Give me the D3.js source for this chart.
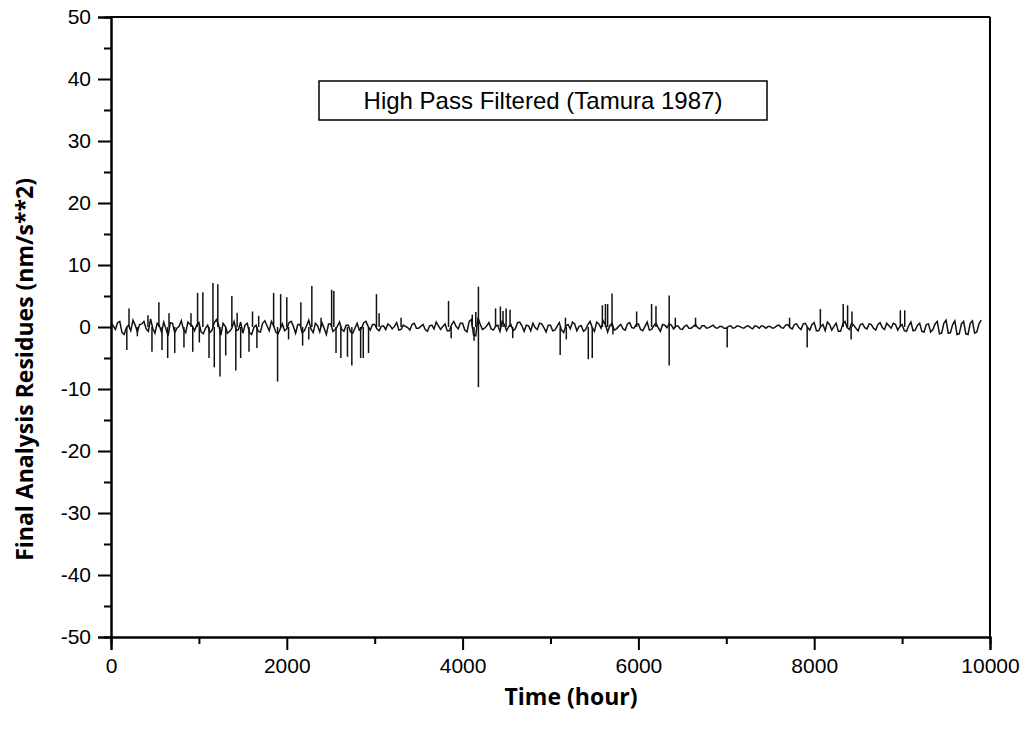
<!DOCTYPE html>
<html>
<head>
<meta charset="utf-8">
<script src="https://cdn.jsdelivr.net/npm/d3@7"></script>
<style>
  body { margin: 0; background: #fff; }
  text { font-family: "Liberation Sans", Arial, sans-serif; }
</style>
</head>
<body>
<div id="chart"></div>
<script>
// background residues, one value every 50 hours from 0 to 9900
const baseStep = 50;
const baseValues = [
  0.6, -0.4, 0.9, -1.2, 0.3, 1.1, -0.8, 0.5, -0.3, 1.3, -1.0, 0.2, 0.8, -1.4, 0.6, -0.2, 1.0, -0.9, 0.4, -0.6,
  0.7, -1.1, 0.3, -0.5, 1.2, -1.3, 0.1, -0.7, 0.9, -0.4, -1.0, 0.6, -1.2, 0.3, -0.8, 1.0, -0.6, 0.2, -1.1, 0.5,
  -0.3, 0.9, -1.0, 0.4, -0.6, 1.1, -0.9, 0.2, 0.7, -1.2, 0.5, -0.4, 0.8, -0.7, 0.3, -1.0, 0.6, -0.2, 0.9, -0.5,
  0.4, -0.6, 0.2, 0.5, -0.3, 0.7, -0.4, 0.1, -0.5, 0.6, -0.2, 0.4, -0.7, 0.3, 0.8, -0.4, 0.5, -0.6, 0.9, -0.3,
  0.6, -0.8, 1.2, -1.4, 0.5, -0.2, 0.7, -0.5, 0.3, 0.9, -0.6, 0.4, -0.3, 0.8, -0.7, 0.2, 0.6, -0.4, 0.5, -0.8,
  0.3, -0.5, 0.7, -0.9, 0.4, 0.8, -0.6, 0.2, -0.4, 0.9, -0.7, 0.5, 1.0, -0.8, 0.6, -0.3, 0.4, -0.5, 0.7, -0.2,
  0.5, -0.6, 0.8, -0.4, 0.6, -0.7, 0.3, 0.5, -0.3, 0.2, -0.4, 0.3, -0.2, 0.4, -0.3, 0.2, -0.1, 0.3, -0.2, 0.1,
  -0.2, 0.2, -0.1, 0.1, -0.2, 0.2, -0.3, 0.1, 0.2, -0.2, 0.1, -0.1, 0.3, -0.2, 0.4, -0.3, 0.5, -0.4, 0.6, -0.5,
  0.7, -0.6, 0.4, 0.8, -0.5, 0.6, -0.7, 0.9, -0.4, 0.3, -0.6, 0.5, -0.3, 0.4, -0.5, 0.7, -0.4, 0.2, 0.6, -0.5,
  0.4, -0.7, 0.8, -0.5, 0.6, -0.8, 0.5, -0.4, 0.9, -1.0, 1.1, -0.9, 1.0, -1.1, 0.9, -1.2, 1.0, -0.8, 1.1
];

// in-between residues at hours 25, 75, ... 9875
const midStart = 25;
const midValues = [
  0.2, 0.7, -0.9, -0.1, -0.6, 0.3, 0.4, 0.9, -0.7, -0.2, 0.6, -0.8, -0.3, 0.7, -0.9, 0.1, -0.4, 0.8, 0.2, 0.3,
  -0.8, -0.2, -0.9, 0.7, 0.3, 0.6, -1.0, -0.2, -0.6, 0.8, 0.3, -0.9, -0.1, -0.7, 0.6, 0.2, 0.9, -0.8, -0.3, -0.6,
  0.7, 0.1, 0.4, -0.9, 0.2, -0.3, 0.6, -0.8, -0.2, 0.5, -0.7, 0.1, -0.4, 0.3, -0.8, -0.2, -0.5, 0.7, 0.1, 0.4,
  -0.3, 0.1, -0.4, 0.2, 0.1, -0.5, 0.3, -0.1, 0.4, -0.2, 0.1, -0.4, 0.2, -0.3, 0.2, 0.1, -0.6, 0.4, 0.1, 0.6,
  -0.5, 0.9, -1.3, 1.5, -0.4, 0.2, -0.3, 0.1, -0.7, 0.4, 0.1, -0.6, 0.7, 0.2, 0.3, -0.6, -0.1, 0.6, -0.1, 0.3,
  -0.6, 0.1, -0.5, 0.2, -0.3, 0.5, 0.1, -0.7, 0.4, -0.1, 0.8, -0.2, 0.4, 0.2, -0.5, 0.1, -0.3, 0.5, -0.1, 0.4,
  -0.4, 0.1, -0.5, 0.2, -0.1, 0.4, -0.1, 0.3, 0.1, -0.3, 0.1, -0.2, 0.1, -0.1, 0.2, -0.2, 0.1, -0.1, 0.1, -0.2,
  0.1, -0.2, 0.2, -0.1, 0.1, -0.1, 0.2, -0.2, 0.1, 0.1, -0.2, 0.2, -0.1, 0.3, -0.1, 0.4, -0.1, 0.5, -0.1, 0.4,
  -0.6, 0.1, -0.6, 0.4, 0.1, -0.7, 0.5, -0.1, 0.6, -0.2, 0.4, -0.1, 0.5, -0.2, 0.4, -0.1, 0.6, -0.2, 0.4, 0.1,
  -0.6, 0.2, -0.6, 0.3, -0.7, 0.4, -0.8, 0.5, -1.1, 0.6, -1.0, 0.4, -1.2, 0.5, -1.1, 0.6, -1.0, 0.5
];

// single-hour spikes [hour, residue]
const spikes = [
  [180, -3.7], [205, 3.0], [300, -1.5], [420, 1.9], [466, -4.0], [545, 4.0], [580, -3.7], [645, -5.0],
  [660, 2.2], [725, -4.2], [830, -3.3], [910, 2.2], [930, -4.0], [985, 5.5], [1005, -2.5], [1045, 5.6],
  [1115, -5.0], [1160, 7.1], [1175, -6.5], [1215, 6.9], [1240, -8.0], [1305, -4.6], [1375, 5.0], [1420, -7.0],
  [1435, 2.3], [1475, -5.0], [1570, -4.0], [1610, 2.5], [1660, -3.4], [1680, 1.8], [1850, 5.5], [1895, -8.8],
  [1930, 5.3], [2000, 4.8], [2020, -2.0], [2160, 4.0], [2180, -3.0], [2250, -2.0], [2285, 6.6], [2390, 1.5],
  [2510, 6.0], [2535, 5.8], [2560, -4.2], [2615, -5.0], [2690, -4.8], [2740, -6.2], [2840, -5.0], [2870, -5.0],
  [2930, -4.2], [3020, 5.3], [3050, 2.2], [3300, 1.5], [3840, 4.2], [3870, -1.8], [4110, 2.0], [4130, -2.2],
  [4150, 2.4], [4180, 6.5], [4180, -9.7], [4375, 3.0], [4430, 3.3], [4460, 2.6], [4495, 3.0], [4540, 2.8],
  [4570, -1.8], [5110, -4.5], [5170, 1.5], [5180, -2.0], [5430, -5.2], [5475, -5.0], [5590, 3.5], [5625, 3.7],
  [5650, 3.7], [5700, 5.4], [5710, -1.2], [5980, 2.5], [6150, 3.7], [6200, 3.4], [6350, 5.1], [6350, -6.2],
  [6420, 1.5], [6650, 1.5], [7010, -3.3], [7720, 1.5], [7920, -3.3], [8070, 2.9], [8330, 3.7], [8380, 3.5],
  [8420, -2.0], [8430, 2.5], [8980, 2.7], [9030, 2.7]
];

const xTicks = [0, 2000, 4000, 6000, 8000, 10000];
const yTicks = [-50, -40, -30, -20, -10, 0, 10, 20, 30, 40, 50];
const legendLabel = "High Pass Filtered (Tamura 1987)";

// merge the background samples into one series sorted by hour
let series = baseValues.map((v, i) => ({ hour: i * baseStep, value: v }));
midValues.forEach((v, i) => series.push({ hour: midStart + i * baseStep, value: v }));
series = d3.sort(series, d => d.hour);

const W = 1031, H = 734;
const margin = { top: 17, right: 41, bottom: 97, left: 111 },
    width = W - margin.left - margin.right,
    height = H - margin.top - margin.bottom;

const svg = d3.select("#chart").append("svg")
    .attr("width", W)
    .attr("height", H);

const g = svg.append("g")
    .attr("transform", `translate(${margin.left},${margin.top})`);

const xScale = d3.scaleLinear().domain([0, 10000]).range([0, width]);
const yScale = d3.scaleLinear().domain([-50, 50]).range([height, 0]);

// data line
const line = d3.line().x(d => xScale(d.hour)).y(d => yScale(d.value));
g.append("path")
    .datum(series)
    .attr("fill", "none")
    .attr("stroke", "#111")
    .attr("stroke-width", 1.5)
    .attr("d", line);

// spikes as vertical strokes
g.append("g").selectAll("line")
    .data(spikes)
    .join("line")
    .attr("x1", d => xScale(d[0]))
    .attr("x2", d => xScale(d[0]))
    .attr("y1", yScale(0))
    .attr("y2", d => yScale(d[1]))
    .attr("stroke", "#111")
    .attr("stroke-width", 1.5);

// frame (top and right)
g.append("line").attr("x1", 0).attr("x2", width).attr("y1", 0).attr("y2", 0)
    .attr("stroke", "#000").attr("stroke-width", 2);
g.append("line").attr("x1", width).attr("x2", width).attr("y1", 0).attr("y2", height)
    .attr("stroke", "#000").attr("stroke-width", 2);

// minor ticks
const xMinor = d3.axisBottom(xScale).tickValues(d3.range(1000, 10000, 2000)).tickSize(7).tickFormat("");
const yMinor = d3.axisLeft(yScale).tickValues(d3.range(-45, 50, 10)).tickSize(7).tickFormat("");
g.append("g").attr("transform", `translate(0,${height})`).call(xMinor);
g.append("g").call(yMinor);

// major axes
const xAxis = d3.axisBottom(xScale).tickValues(xTicks).tickSize(13).tickPadding(8).tickFormat(d3.format("d"));
const yAxis = d3.axisLeft(yScale).tickValues(yTicks).tickSize(13).tickPadding(7).tickFormat(d => d < 0 ? "-" + Math.abs(d) : d);

g.append("g").attr("class", "x-axis").attr("transform", `translate(0,${height})`).call(xAxis);
g.append("g").attr("class", "y-axis").call(yAxis);

g.selectAll(".domain").attr("stroke", "#000").attr("stroke-width", 2);
g.selectAll(".tick line").attr("stroke", "#000").attr("stroke-width", 2);
g.selectAll(".tick text").attr("font-size", 21).attr("fill", "#000")
    .style("font-family", "'Liberation Sans', Arial, sans-serif");

// legend box
const lg = g.append("g").attr("transform", `translate(${319 - margin.left},${81 - margin.top})`);
lg.append("rect").attr("width", 448).attr("height", 39)
    .attr("fill", "#fff").attr("stroke", "#000").attr("stroke-width", 1.5);
lg.append("text").attr("x", 224).attr("y", 28).attr("text-anchor", "middle")
    .attr("font-size", 24).text(legendLabel);

// axis titles
svg.append("text")
    .attr("x", 571).attr("y", 705)
    .attr("text-anchor", "middle")
    .attr("font-size", 23).attr("font-weight", "bold")
    .style("font-family", "'Open Sans', sans-serif")
    .text("Time (hour)");

svg.append("text")
    .attr("transform", "translate(33,178) rotate(-90)")
    .attr("text-anchor", "end")
    .attr("font-size", 23).attr("font-weight", "bold")
    .style("font-family", "'Open Sans', sans-serif")
    .text("Final Analysis Residues (nm/s**2)");
</script>
</body>
</html>
